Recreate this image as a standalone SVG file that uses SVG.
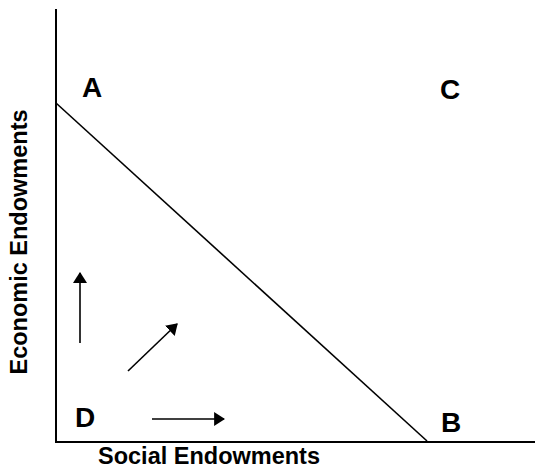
<svg xmlns="http://www.w3.org/2000/svg" width="535" height="469" viewBox="0 0 535 469">
<style>
.lbl{font-family:"Liberation Sans",Arial,sans-serif;font-weight:bold;fill:#000}
.pt{font-size:28px}
.ax{font-size:23.5px}
.axis{stroke:#000;stroke-width:2;fill:none}
.ln{stroke:#000;stroke-width:1.6;fill:none}
.arr{stroke:#000;stroke-width:1.6;fill:none;marker-end:url(#ah)}
</style>
<defs>
<marker id="ah" viewBox="0 0 10 10" refX="9" refY="5" markerUnits="userSpaceOnUse" markerWidth="11" markerHeight="14" orient="auto" preserveAspectRatio="none">
<path d="M0,0 L10,5 L0,10 Z" fill="#000"/>
</marker>
</defs>
<g id="axes">
<line class="axis" x1="56" y1="9" x2="56" y2="442"/>
<line class="axis" x1="55" y1="442" x2="535" y2="442"/>
</g>
<g id="connectors">
<line class="ln" x1="56" y1="103" x2="427" y2="441"/>
<line class="arr" x1="80" y1="343" x2="80" y2="273"/>
<line class="arr" x1="128" y1="371" x2="177" y2="324"/>
<line class="arr" x1="152" y1="419" x2="224" y2="419"/>
</g>
<g id="A"><text class="lbl pt" x="82" y="97">A</text></g>
<g id="C"><text class="lbl pt" x="440" y="99">C</text></g>
<g id="B"><text class="lbl pt" x="441" y="432">B</text></g>
<g id="D"><text class="lbl pt" x="75" y="427">D</text></g>
<g id="xlabel"><text class="lbl ax" x="98" y="463.5">Social Endowments</text></g>
<g id="ylabel"><text class="lbl ax" transform="translate(27,242) rotate(-90)" text-anchor="middle">Economic Endowments</text></g>
</svg>
